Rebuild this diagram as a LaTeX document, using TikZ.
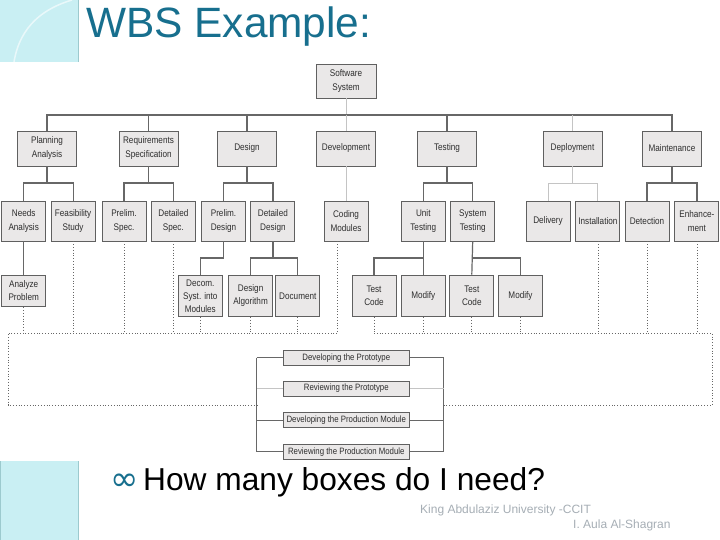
\documentclass[tikz,border=0pt]{standalone}
\usepackage{fontspec}
\setmainfont{Liberation Sans}
\newfontfamily\boxfont{Liberation Sans}[FakeStretch=0.85]
\newfontfamily\symfont{DejaVu Sans}
\usetikzlibrary{positioning,calc}
\definecolor{titleteal}{HTML}{176F8E}
\definecolor{aqua}{HTML}{C9EFF3}
\definecolor{aquaedge}{HTML}{9CCACE}
\definecolor{boxfill}{HTML}{EAE8E8}
\definecolor{boxline}{HTML}{606060}
\definecolor{boxtext}{HTML}{2E2E2E}
\definecolor{wire}{HTML}{676767}
\definecolor{wirelight}{HTML}{C4C4C4}
\definecolor{footgray}{HTML}{A6AEB5}

\begin{document}
\begin{tikzpicture}[
  x=1pt, y=-1pt,
  node distance=4.5pt,
  box/.style={draw=boxline, line width=0.9pt, fill=boxfill, text=boxtext, font=\boxfont\fontsize{9.6}{14}\selectfont, align=center, inner sep=1pt},
  top/.style={box, minimum width=59pt, minimum height=35pt},
  leaf/.style={box, minimum width=44pt, minimum height=40pt},
  sub/.style={box, minimum width=44pt, minimum height=41.7pt, font=\boxfont\fontsize{9.6}{13}\selectfont},
  phase/.style={box, minimum width=126pt, minimum height=15pt, font=\boxfont\fontsize{9.2}{11}\selectfont},
  wire/.style={draw=wire, line width=1.2pt},
  thinwire/.style={draw=wirelight, line width=0.9pt},
  dotline/.style={draw=wire, line width=0.8pt, dotted}
]
  \fill[white] (0,0) rectangle (720,540);
  \useasboundingbox (0,0) rectangle (720,540);

  % slide decoration
  \fill[aqua] (0,0) rectangle (78,62);
  \draw[aquaedge] (78,0) -- (78,62);
  \draw[white, line width=1.5pt, opacity=0.6] (14,62) .. controls (20,25) and (45,8) .. (72,0);
  \fill[aqua] (0,461) rectangle (78,540);
  \draw[aquaedge, line width=1pt] (78,461) -- (78,540);
  \draw[aquaedge] (0,461) -- (0,540);

  \node[anchor=base west, inner sep=0, text=titleteal, font=\fontsize{42.4}{48}\selectfont] (title) at (86,37.5) {WBS Example:};

  % tree
  \node[top, minimum width=60pt, minimum height=34pt] (ss) at (346,81) {Software\\System};
  \node[top] (pa) at (47,148.5) {Planning\\Analysis};
  \node[top] (rs) at (148.5,148.5) {Requirements\\Specification};
  \node[top] (ds) at (247,148.5) {Design};
  \node[top] (dv) at (346,148.5) {Development};
  \node[top] (ts) at (447,148.5) {Testing};
  \node[top] (dp) at (572.5,148.5) {Deployment};
  \node[top] (mt) at (672,148.5) {Maintenance};

  \node[leaf] (na) at (23.7,221) {Needs\\Analysis};
  \node[leaf, right=of na] (fs) {Feasibility\\Study};
  \node[leaf] (ps) at (124,221) {Prelim.\\Spec.};
  \node[leaf, right=of ps] (dsp) {Detailed\\Spec.};
  \node[leaf] (pd) at (223.5,221) {Prelim.\\Design};
  \node[leaf, right=of pd] (dd) {Detailed\\Design};
  \node[leaf] (cm) at (346,221) {Coding\\Modules};
  \node[leaf] (ut) at (423.3,221) {Unit\\Testing};
  \node[leaf, right=of ut] (st) {System\\Testing};
  \node[leaf] (dl) at (548,221) {Delivery};
  \node[leaf, right=5pt of dl] (in) {Installation};
  \node[leaf] (de) at (647,221) {Detection};
  \node[leaf, right=5pt of de] (en) {Enhance-\\ment};

  \node[sub, minimum height=31.7pt] (ap) at (23.7,291) {Analyze\\Problem};
  \node[sub] (dcm) at (200.3,296) {Decom.\\Syst. into\\Modules};
  \node[sub, right=5.4pt of dcm] (dal) {Design\\Algorithm};
  \node[sub, right=2.3pt of dal] (doc) {Document};
  \node[sub] (tc1) at (374,296) {Test\\Code};
  \node[sub] (md1) at (423.3,296) {Modify};
  \node[sub] (tc2) at (471.8,296) {Test\\Code};
  \node[sub] (md2) at (520.5,296) {Modify};

  \node[phase] (p1) at (346.3,357.7) {Developing the Prototype};
  \node[phase] (p2) at (346.3,388.5) {Reviewing the Prototype};
  \node[phase] (p3) at (346.3,420.2) {Developing the Production Module};
  \node[phase] (p4) at (346.3,451.8) {Reviewing the Production Module};

  \coordinate (bus1) at (0,115);
  \coordinate (bus2) at (0,183);
  \coordinate (bus3) at (0,258);
  \coordinate (lt) at (0,333);
  \coordinate (lb) at (0,405);
  \coordinate (cl) at (8,333);
  \coordinate (cr) at (712,333);
  \coordinate (cmdot) at ($(cm.south)+(-9,0)$);
  \coordinate (brl) at ($(p1.west)+(-26,0)$);
  \coordinate (brr) at ($(p1.east)+(34,0)$);

  % connectors
  \draw[thinwire] (ss.south) -- (ss |- bus1);
  \draw[wire] (pa.north) -- (pa |- bus1) -- (mt |- bus1) -- (mt.north);
  \foreach \n in {rs,ds,ts} \draw[wire] (\n |- bus1) -- (\n.north);
  \foreach \n in {dv,dp} \draw[thinwire] (\n |- bus1) -- (\n.north);

  \foreach \p/\a/\b/\s in {pa/na/fs/wire, rs/ps/dsp/wire, ds/pd/dd/wire, ts/ut/st/wire, dp/dl/in/thinwire, mt/de/en/wire} {
    \draw[\s] (\p.south) -- (\p |- bus2);
    \draw[\s] (\a.north) -- (\a |- bus2) -- (\b |- bus2) -- (\b.north);
  }
  \draw[thinwire] (dv.south) -- (cm.north);

  \draw[wire] (na.south) -- (ap.north);
  \draw[wire] (pd.south) -- (pd |- bus3) -- (dcm |- bus3) -- (dcm.north);
  \draw[wire] (dd.south) -- (dd |- bus3);
  \draw[wire] (dal.north) -- (dal |- bus3) -- (doc |- bus3) -- (doc.north);
  \draw[wire] (ut.south) -- (md1.north);
  \draw[wire] (tc1.north) -- (tc1 |- bus3) -- (ut |- bus3);
  \draw[wire] (st.south) -- (tc2.north);
  \draw[wire] (st |- bus3) -- (md2 |- bus3) -- (md2.north);

  % iteration loop
  \foreach \n in {ap,fs,ps,dsp,dcm,dal,doc,tc1,md1,tc2,md2,in,de,en}
    \draw[dotline] (\n.south) -- (\n |- lt);
  \draw[dotline] (cmdot) -- (cmdot |- lt);
  \draw[dotline] (cmdot |- lt) -- (cl) -- (cl |- lb) -- (brl |- lb);
  \draw[dotline] (tc1 |- lt) -- (cr) -- (cr |- lb) -- (brr |- lb);

  \draw[wire] (brl) -- (brl |- p4);
  \draw[wire] (brr) -- (brr |- p4);
  \foreach \n/\s in {p1/wire, p2/thinwire, p3/wire, p4/wire} {
    \draw[\s] (brl |- \n) -- (\n.west);
    \draw[\s] (\n.east) -- (brr |- \n);
  }

  % text
  \node[anchor=base east, inner sep=0, text=titleteal, font=\symfont\fontsize{34}{38}\selectfont] (bul) at (139,490) {∞};
  \node[anchor=base west, inner sep=0, font=\fontsize{31.7}{36}\selectfont] (ask) at (143,490) {How many boxes do I need?};
  \node[anchor=base west, inner sep=0, text=footgray, font=\fontsize{12}{14}\selectfont] (ft1) at (420,513.5) {King Abdulaziz University -CCIT};
  \node[anchor=base west, inner sep=0, text=footgray, font=\fontsize{12}{14}\selectfont] (ft2) at (573,528) {I. Aula Al-Shagran};
\end{tikzpicture}
\end{document}
